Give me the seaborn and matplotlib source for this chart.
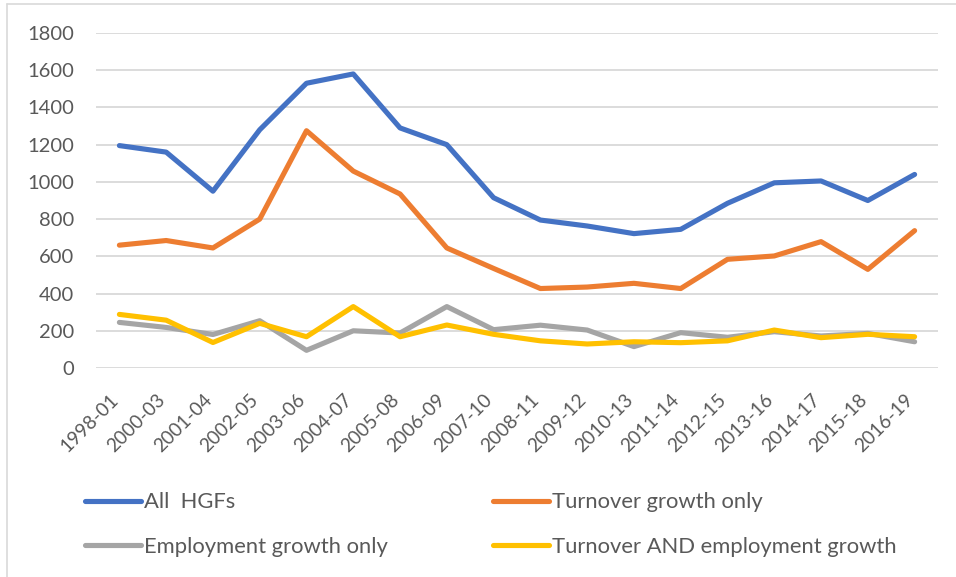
import matplotlib
matplotlib.use("Agg")
import matplotlib.pyplot as plt
from matplotlib.lines import Line2D
from matplotlib.transforms import ScaledTranslation
import seaborn as sns
import pandas as pd

periods = ["1998-01", "2000-03", "2001-04", "2002-05", "2003-06", "2004-07",
           "2005-08", "2006-09", "2007-10", "2008-11", "2009-12", "2010-13",
           "2011-14", "2012-15", "2013-16", "2014-17", "2015-18", "2016-19"]

all_hgfs = [1195, 1160, 950, 1280, 1530, 1580, 1290, 1200, 915, 795,
            763, 722, 745, 885, 995, 1005, 900, 1040]
turnover_only = [660, 685, 645, 800, 1275, 1058, 935, 645, 535, 427,
                 435, 455, 427, 584, 602, 679, 530, 738]
employment_only = [245, 218, 180, 254, 95, 200, 188, 330, 206, 230,
                   204, 115, 190, 165, 195, 172, 186, 141]
turnover_and_emp = [288, 257, 137, 240, 168, 330, 168, 231, 181, 146,
                    129, 141, 136, 146, 204, 163, 181, 168]

series_names = ["All  HGFs", "Turnover growth only",
                "Employment growth only", "Turnover AND employment growth"]
series_values = [all_hgfs, turnover_only, employment_only, turnover_and_emp]
colors = ["#4472C4", "#ED7D31", "#A5A5A5", "#FFC000"]

y_ticks = [0, 200, 400, 600, 800, 1000, 1200, 1400, 1600, 1800]

frames = []
for name, vals in zip(series_names, series_values):
    frames.append(pd.DataFrame({"period": periods, "count": vals, "series": name}))
df = pd.concat(frames, ignore_index=True)

sns.set_theme(style="white")
plt.rcParams["font.family"] = ["Lato", "DejaVu Sans"]

text_color = "#595959"
W, H = 956, 577
fig = plt.figure(figsize=(W / 100, H / 100), dpi=100)
ax = fig.add_axes([96 / W, 1 - 368 / H, (938 - 96) / W, (368 - 33) / H])

sns.lineplot(data=df, x="period", y="count", hue="series",
             hue_order=series_names, palette=colors, sort=False,
             linewidth=3.7, ax=ax, legend=False)
for ln in ax.get_lines():
    ln.set_solid_capstyle("round")
    ln.set_solid_joinstyle("round")

ax.set_xlim(-0.5, len(periods) - 0.5)
ax.set_ylim(0, 1800)
ax.set_yticks(y_ticks)
ax.set_yticklabels([str(v) for v in y_ticks])
ax.yaxis.grid(True, color="#D9D9D9", linewidth=1.3)
ax.xaxis.grid(False)
ax.set_axisbelow(True)
for s in ax.spines.values():
    s.set_visible(False)
ax.set_xlabel("")
ax.set_ylabel("")
ax.tick_params(axis="y", length=0, pad=16, labelsize=14.5, labelcolor=text_color)
ax.tick_params(axis="x", length=0, pad=21, labelsize=13.8, labelcolor=text_color)
shift = ScaledTranslation(-4 / 100, 0, fig.dpi_scale_trans)
for lbl in ax.get_xticklabels():
    lbl.set_rotation(45)
    lbl.set_ha("right")
    lbl.set_va("center")
    lbl.set_rotation_mode("anchor")
    lbl.set_transform(lbl.get_transform() + shift)

# chart frame (left and top edges)
fig.add_artist(Line2D([7 / W, 7 / W], [0, 1 - 4 / H], transform=fig.transFigure,
                      color="#D9D9D9", linewidth=1.2))
fig.add_artist(Line2D([7 / W, 1], [1 - 4 / H, 1 - 4 / H], transform=fig.transFigure,
                      color="#D9D9D9", linewidth=1.2))

# legend in two columns
handles = [Line2D([], [], color=c, linewidth=3.7, solid_capstyle="round") for c in colors]
leg_kw = dict(frameon=False, fontsize=15.8, labelcolor=text_color,
              handlelength=2.55, handletextpad=0.15, borderpad=0,
              borderaxespad=0, labelspacing=1.11, loc="center left")
leg1 = fig.legend([handles[0], handles[2]], [series_names[0], series_names[2]],
                  bbox_to_anchor=(85 / W, 1 - 524.5 / H), **leg_kw)
leg2 = fig.legend([handles[1], handles[3]], [series_names[1], series_names[3]],
                  bbox_to_anchor=(493 / W, 1 - 524.5 / H), **leg_kw)

fig.savefig("out.png", dpi=100, facecolor="white")
